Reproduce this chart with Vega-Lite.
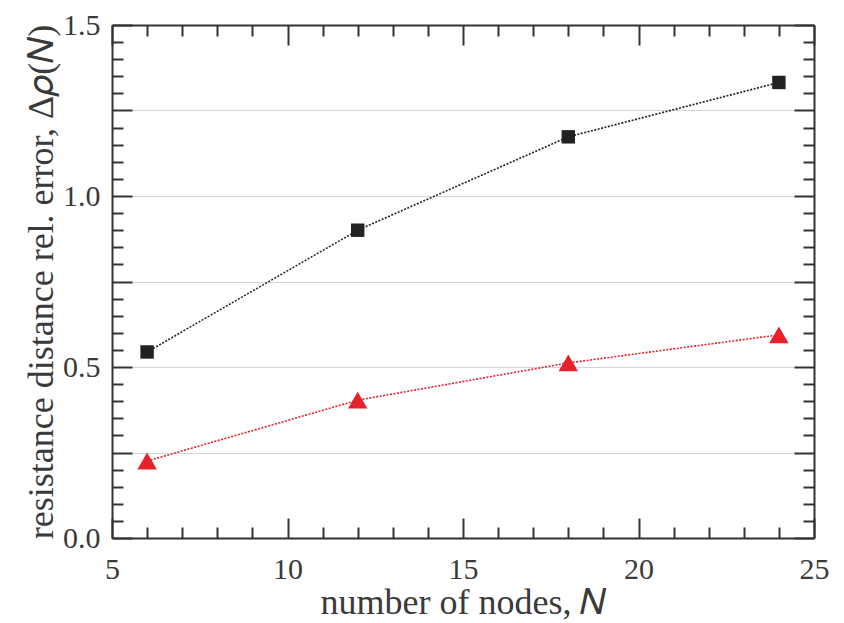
{
  "$schema": "https://vega.github.io/schema/vega-lite/v6.json",
  "autosize": "none",
  "width": 702,
  "height": 513,
  "padding": {"left": 112, "top": 25, "right": 30, "bottom": 85},
  "background": "white",
  "config": {
    "view": {"stroke": null},
    "axis": {
      "labelFont": "Liberation Serif",
      "titleFont": "Liberation Serif",
      "labelFontSize": 30,
      "titleFontSize": 36,
      "titleFontWeight": "normal",
      "labelColor": "#3a3a3a",
      "titleColor": "#3a3a3a",
      "tickColor": "#333",
      "domainColor": "#333",
      "tickWidth": 2,
      "domainWidth": 2,
      "grid": false
    }
  },
  "data": {
    "values": [
      {"N": 6, "err": 0.544, "series": "A"},
      {"N": 12, "err": 0.900, "series": "A"},
      {"N": 18, "err": 1.173, "series": "A"},
      {"N": 24, "err": 1.332, "series": "A"},
      {"N": 6, "err": 0.225, "series": "B"},
      {"N": 12, "err": 0.403, "series": "B"},
      {"N": 18, "err": 0.512, "series": "B"},
      {"N": 24, "err": 0.594, "series": "B"}
    ]
  },
  "layer": [
    {
      "mark": {"type": "line", "strokeWidth": 1.6, "strokeDash": [2, 1.5]},
      "encoding": {
        "x": {
          "field": "N", "type": "quantitative",
          "scale": {"domain": [5, 25], "nice": false, "zero": false},
          "axis": {
            "orient": "bottom", "values": [5, 10, 15, 20, 25], "tickSize": -20,
            "labelPadding": 36, "labelFlush": false, "format": "d",
            "title": "number of nodes, 𝑁", "titleX": 351, "titleY": 75,
            "titleAlign": "center", "titleBaseline": "alphabetic", "titleAnchor": null
          }
        },
        "y": {
          "field": "err", "type": "quantitative",
          "scale": {"domain": [0, 1.5], "nice": false},
          "axis": {
            "orient": "left",
            "values": [0, 0.25, 0.5, 0.75, 1, 1.25, 1.5],
            "labelExpr": "datum.value % 0.5 === 0 ? format(datum.value, '.1f') : ''",
            "tickSize": -20, "labelPadding": 32, "labelFlush": false,
            "grid": true, "gridColor": "#d4d4d4", "gridWidth": 1.2,
            "title": "resistance distance rel. error, Δ𝜌(𝑁)",
            "titleX": -60, "titleY": 256.5, "titleAngle": -90,
            "titleAlign": "center", "titleBaseline": "alphabetic", "titleAnchor": null
          }
        },
        "color": {
          "field": "series", "type": "nominal",
          "scale": {"domain": ["A", "B"], "range": ["#222222", "#e8202a"]},
          "legend": null
        }
      }
    },
    {
      "mark": {"type": "point", "filled": true, "opacity": 1, "strokeWidth": 0},
      "encoding": {
        "x": {
          "field": "N", "type": "quantitative",
          "axis": {"orient": "top", "values": [5, 10, 15, 20, 25], "tickSize": -20, "labels": false, "title": null}
        },
        "y": {
          "field": "err", "type": "quantitative",
          "axis": {"orient": "right", "values": [0, 0.25, 0.5, 0.75, 1, 1.25, 1.5], "tickSize": -20, "labels": false, "title": null}
        },
        "shape": {
          "field": "series", "type": "nominal",
          "scale": {"domain": ["A", "B"], "range": ["square", "triangle-up"]},
          "legend": null
        },
        "color": {
          "field": "series", "type": "nominal",
          "scale": {"domain": ["A", "B"], "range": ["#000000", "#e00000"]},
          "legend": null
        },
        "size": {
          "field": "series", "type": "nominal",
          "scale": {"domain": ["A", "B"], "range": [180, 380]},
          "legend": null
        }
      }
    },
    {
      "mark": {"type": "point", "opacity": 0},
      "encoding": {
        "x": {
          "field": "N", "type": "quantitative",
          "axis": {"orient": "bottom", "values": [6, 7, 8, 9, 11, 12, 13, 14, 16, 17, 18, 19, 21, 22, 23, 24], "tickSize": -11, "labels": false, "domain": false, "title": null}
        },
        "y": {
          "field": "err", "type": "quantitative",
          "axis": {"orient": "left", "values": [0.05, 0.1, 0.15, 0.2, 0.3, 0.35, 0.4, 0.45, 0.55, 0.6, 0.65, 0.7, 0.8, 0.85, 0.9, 0.95, 1.05, 1.1, 1.15, 1.2, 1.3, 1.35, 1.4, 1.45], "tickSize": -11, "labels": false, "domain": false, "title": null}
        }
      }
    },
    {
      "mark": {"type": "point", "opacity": 0},
      "encoding": {
        "x": {
          "field": "N", "type": "quantitative",
          "axis": {"orient": "top", "values": [6, 7, 8, 9, 11, 12, 13, 14, 16, 17, 18, 19, 21, 22, 23, 24], "tickSize": -11, "labels": false, "domain": false, "title": null}
        },
        "y": {
          "field": "err", "type": "quantitative",
          "axis": {"orient": "right", "values": [0.05, 0.1, 0.15, 0.2, 0.3, 0.35, 0.4, 0.45, 0.55, 0.6, 0.65, 0.7, 0.8, 0.85, 0.9, 0.95, 1.05, 1.1, 1.15, 1.2, 1.3, 1.35, 1.4, 1.45], "tickSize": -11, "labels": false, "domain": false, "title": null}
        }
      }
    }
  ],
  "resolve": {"axis": {"x": "independent", "y": "independent"}}
}
